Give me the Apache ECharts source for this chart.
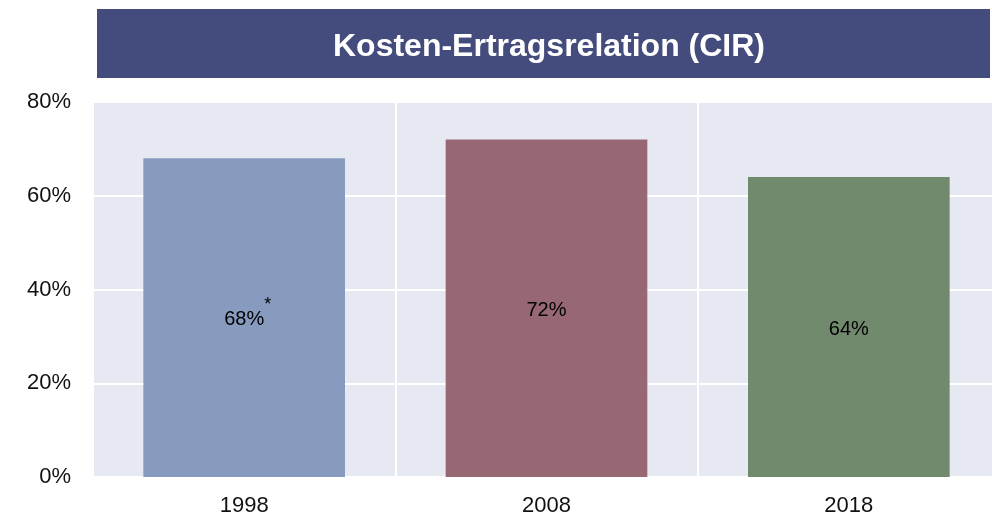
<!DOCTYPE html>
<html lang="de">
<head>
    <meta charset="utf-8">
    <title>Kosten-Ertragsrelation (CIR)</title>
    <script src="https://cdn.jsdelivr.net/npm/echarts@6/dist/echarts.min.js"></script>
    <style>
    * { margin: 0; padding: 0; }
    #chart-container { width: 992px; height: 517px; background: #fff; }
    </style>
</head>
<body>
    <div id="chart-container"></div>
    <script>
      // data
      var years = ['1998', '2008', '2018'];
      var cir = [68, 72, 64];
      var notes = ['*', '', ''];        // footnote mark after a value
      var yTicks = [0, 20, 40, 60, 80];

      var barColors = ['#879bbf', '#976873', '#718a6d'];
      var font = '"Liberation Sans", Arial, sans-serif';

      var myChart = echarts.init(document.getElementById('chart-container'), null, { renderer: 'canvas' });

      myChart.setOption({
          animation: false,
          graphic: [
              {
                  type: 'rect',
                  shape: { x: 97, y: 9, width: 893, height: 69 },
                  style: { fill: '#444b7d' },
                  z: 0
              }
          ],
          title: {
              text: 'Kosten-Ertragsrelation (CIR)',
              left: 544,
              top: 26,
              textAlign: 'center',
              textStyle: { color: '#fff', fontSize: 32, fontWeight: 'bold', fontFamily: font },
              z: 10
          },
          grid: {
              left: 93, top: 102, width: 907, height: 375,
              outerBoundsMode: 'none',
              show: true, backgroundColor: '#e6e9f1', borderWidth: 0
          },
          xAxis: {
              type: 'category',
              data: years,
              axisLine: { show: false },
              axisTick: { show: false },
              splitLine: { show: true, lineStyle: { color: '#fff', width: 2 } },
              axisLabel: { color: '#111', fontSize: 22, fontFamily: font, margin: 18 }
          },
          yAxis: {
              type: 'value',
              min: yTicks[0],
              max: yTicks[yTicks.length - 1],
              interval: 20,
              axisLine: { show: false },
              axisTick: { show: false },
              splitLine: { lineStyle: { color: '#fff', width: 2 } },
              axisLabel: { color: '#111', fontSize: 22, fontFamily: font, margin: 22, formatter: '{value}%' }
          },
          series: [
              {
                  type: 'bar',
                  barWidth: '66.7%',
                  data: cir.map(function (v, i) {
                      var item = { value: v, itemStyle: { color: barColors[i] } };
                      if (notes[i]) item.label = { offset: [0, 2] };
                      return item;
                  }),
                  label: {
                      show: true,
                      position: 'inside',
                      offset: [0, 2],
                      formatter: function (p) {
                          var n = notes[p.dataIndex];
                          if (n) return '{p|}{v|' + p.value + '%}{s|' + n + '}';
                          return '{v|' + p.value + '%}';
                      },
                      rich: {
                          v: { fontSize: 20, color: '#000', fontFamily: font, lineHeight: 22 },
                          p: { width: 7, lineHeight: 22 },
                          s: { fontSize: 18, color: '#000', fontFamily: font, width: 7, lineHeight: 18, padding: [0, 0, 30, 0] }
                      }
                  }
              }
          ]
      });
  </script>
</body>
</html>
